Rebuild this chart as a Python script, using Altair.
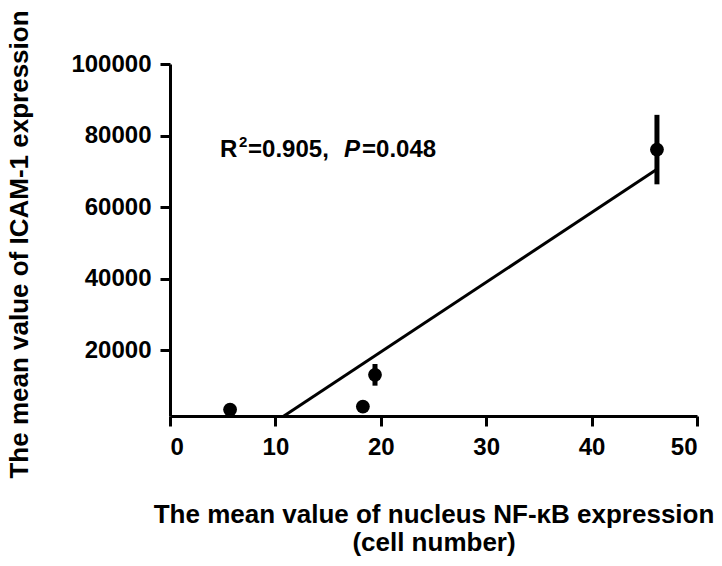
import altair as alt
import pandas as pd

# Data
nfkb = [5.7, 18.3, 19.45, 46.2]
icam = [3500, 4340, 13200, 76100]
icam_err = [300, 300, 3030, 9700]

x_ticks = [0, 10, 20, 30, 40, 50]
y_ticks = [20000, 40000, 60000, 80000, 100000]

# annotation pieces
ann_text = ["R", "2", "=0.905,", "P", "=0.048"]
ann_dx = [0, 19, 28, 124, 142]
ann_dy = [0, -10, 0, 0, 0]
ann_size = [24, 15, 24, 24, 24]
ann_style = ["normal", "normal", "normal", "italic", "normal"]
ann_x = 4.75
ann_y = 74070

df = pd.DataFrame({"x": nfkb, "y": icam, "err": icam_err})
ann = pd.DataFrame({"t": ann_text, "dx": ann_dx, "dy": ann_dy, "s": ann_size, "st": ann_style})
ann["x"] = ann_x
ann["y"] = ann_y

FONT = "Liberation Sans"
xs = alt.Scale(domain=[0, 50], nice=False, zero=False)
ys = alt.Scale(domain=[1700, 100000], nice=False, zero=False)

xaxis = alt.Axis(values=x_ticks, title=["The mean value of nucleus NF-κB expression", "(cell number)"],
                 grid=False, domainColor="black", domainWidth=3, tickColor="black", tickWidth=3,
                 tickSize=10, labelPadding=9, labelFont=FONT, labelFontSize=24, labelFontWeight="bold",
                 labelColor="black", titleFont=FONT, titleFontSize=26, titleFontWeight="bold",
                 titleColor="black", titleBaseline="alphabetic", titleY=106, titleLineHeight=28,
                 titleAlign="center")
yaxis = alt.Axis(values=y_ticks, format="d", title="The mean value of ICAM-1 expression",
                 grid=False, domainColor="black", domainWidth=3, tickColor="black", tickWidth=3,
                 tickSize=10, labelPadding=9, labelFont=FONT, labelFontSize=24, labelFontWeight="bold",
                 labelColor="black", titleFont=FONT, titleFontSize=26, titleFontWeight="bold",
                 titleColor="black", titleBaseline="alphabetic", titleX=-143, titleY=180,
                 titleAngle=270, titleAlign="center")

base = alt.Chart(df)

points = base.mark_circle(size=190, color="black", opacity=1).encode(
    x=alt.X("x:Q", scale=xs, axis=xaxis),
    y=alt.Y("y:Q", scale=ys, axis=yaxis),
)

errs = base.transform_calculate(lo="datum.y - datum.err", hi="datum.y + datum.err").mark_rule(
    color="black", strokeWidth=5
).encode(x="x:Q", y="lo:Q", y2="hi:Q")

reg = base.transform_regression("x", "y", extent=[0, 46.2]).mark_line(
    color="black", strokeWidth=3, clip=True
).encode(x="x:Q", y="y:Q")

texts = []
for i in range(len(ann_text)):
    texts.append(
        alt.Chart(ann.iloc[[i]]).mark_text(
            align="left", baseline="alphabetic", font=FONT, fontWeight="bold",
            fontSize=ann_size[i], fontStyle=ann_style[i], dx=ann_dx[i], dy=ann_dy[i], color="black"
        ).encode(x="x:Q", y="y:Q", text="t:N")
    )

chart = alt.layer(reg, errs, points, *texts).properties(
    width=527, height=352,
    autosize=alt.AutoSizeParams(type="none"),
    padding={"left": 162, "top": 56, "right": 17, "bottom": 142},
).configure_view(strokeWidth=0)

chart.save("out.html", embed_options={"renderer": "svg", "actions": False})
